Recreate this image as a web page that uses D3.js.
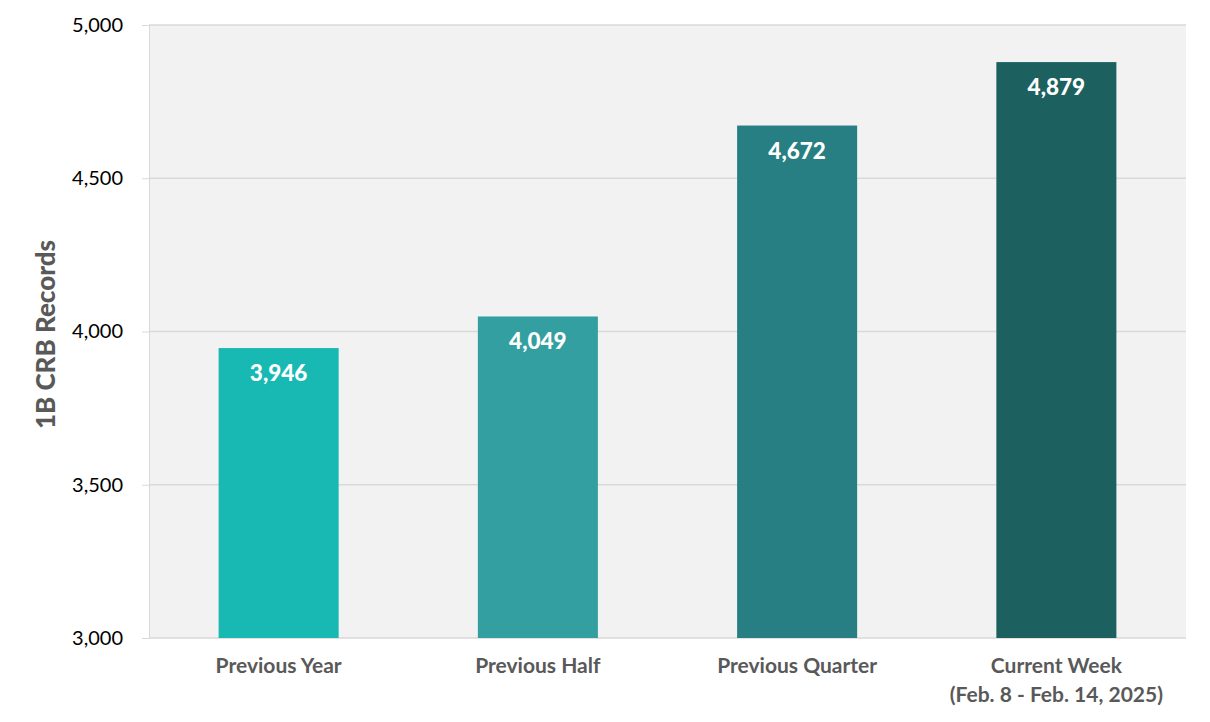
<!DOCTYPE html>
<html>
<head>
<meta charset="utf-8">
<script src="https://cdn.jsdelivr.net/npm/d3@7"></script>
<style>
  body { margin: 0; background: #fff; }
  svg text { font-family: Lato, "Open Sans", sans-serif; }
</style>
</head>
<body>
<div id="chart"></div>
<script>
var categories = ["Previous Year", "Previous Half", "Previous Quarter", "Current Week"];
var subLabels = ["", "", "", "(Feb. 8 - Feb. 14, 2025)"];
var values = [3946, 4049, 4672, 4879];
var barColors = ["#17b9b2", "#339fa1", "#277f83", "#1c615f"];
var yTicks = [3000, 3500, 4000, 4500, 5000];

var margin = {top: 25, right: 24, bottom: 84, left: 149};
var width = 1210 - margin.left - margin.right;
var height = 722 - margin.top - margin.bottom;

var svg = d3.select("#chart").append("svg")
    .attr("width", 1210)
    .attr("height", 722)
  .append("g")
    .attr("transform", "translate(" + margin.left + "," + margin.top + ")");

var x = d3.scaleBand()
    .domain(categories)
    .range([0, width])
    .paddingInner(0.537)
    .paddingOuter(0.2685);

var y = d3.scaleLinear()
    .domain([3000, 5000])
    .range([height, 0]);

// plot background
svg.append("rect")
    .attr("width", width)
    .attr("height", height)
    .attr("fill", "#f2f2f2");

// gridlines + y axis
var yAxis = svg.append("g")
    .attr("class", "yaxis")
    .call(d3.axisLeft(y).tickValues(yTicks).tickFormat(d3.format(",")).tickSize(7).tickPadding(19));
yAxis.select(".domain").attr("stroke", "#d9d9d9");
yAxis.selectAll(".tick line").attr("stroke", "#d9d9d9");
yAxis.selectAll(".tick text")
    .attr("fill", "#000")
    .style("font-size", "20px");

svg.append("g")
    .selectAll("line")
    .data(yTicks)
    .enter().append("line")
    .attr("x1", 0)
    .attr("x2", width)
    .attr("y1", function(d) { return y(d); })
    .attr("y2", function(d) { return y(d); })
    .attr("stroke", "#d9d9d9")
    .attr("stroke-width", 1.5);

// bars
svg.selectAll("rect.bar")
    .data(values)
    .enter().append("rect")
    .attr("class", "bar")
    .attr("x", function(d, i) { return x(categories[i]); })
    .attr("y", function(d) { return y(d); })
    .attr("width", x.bandwidth())
    .attr("height", function(d) { return height - y(d); })
    .attr("fill", function(d, i) { return barColors[i]; });

// value labels
svg.selectAll("text.val")
    .data(values)
    .enter().append("text")
    .attr("class", "val")
    .attr("x", function(d, i) { return x(categories[i]) + x.bandwidth() / 2; })
    .attr("y", function(d) { return y(d) + 33; })
    .attr("text-anchor", "middle")
    .attr("fill", "#fff")
    .style("font-size", "22.5px")
    .style("font-weight", "900")
    .text(function(d) { return d3.format(",")(d); });

// category labels
var xl = svg.append("g").attr("transform", "translate(0," + height + ")");
xl.selectAll("text.cat")
    .data(categories)
    .enter().append("text")
    .attr("class", "cat")
    .attr("x", function(d) { return x(d) + x.bandwidth() / 2; })
    .attr("y", 35)
    .attr("text-anchor", "middle")
    .attr("fill", "#595959")
    .style("font-size", "21px")
    .style("font-weight", "bold")
    .text(function(d) { return d; });
xl.selectAll("text.sub")
    .data(subLabels)
    .enter().append("text")
    .attr("class", "sub")
    .attr("x", function(d, i) { return x(categories[i]) + x.bandwidth() / 2; })
    .attr("y", 64)
    .attr("text-anchor", "middle")
    .attr("fill", "#595959")
    .style("font-size", "21px")
    .style("font-weight", "bold")
    .text(function(d) { return d; });

// y axis title
svg.append("text")
    .attr("transform", "translate(" + (-94) + "," + (height / 2 + 3) + ") rotate(-90)")
    .attr("text-anchor", "middle")
    .attr("fill", "#595959")
    .style("font-size", "26px")
    .style("font-weight", "900")
    .text("1B CRB Records");
</script>
</body>
</html>
